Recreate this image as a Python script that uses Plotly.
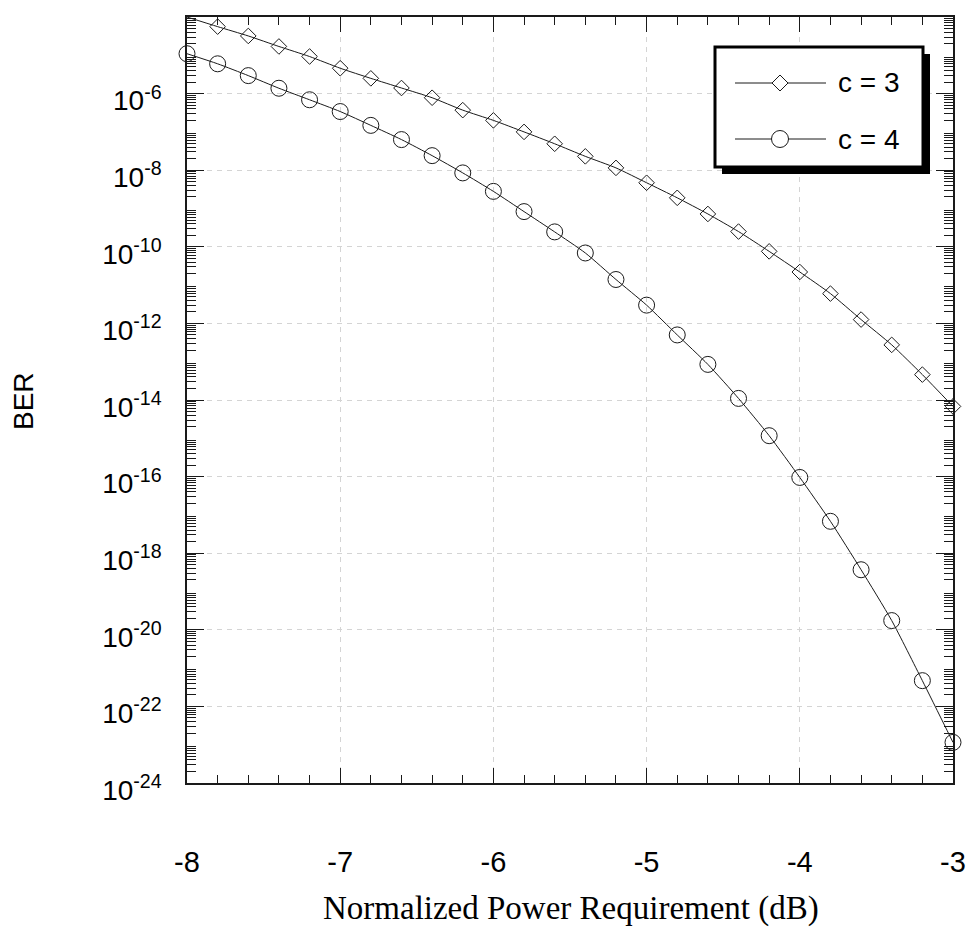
import plotly.graph_objects as go

# Normalized power requirement (dB), sampled every 0.2 dB
power_db = [-8.0, -7.8, -7.6, -7.4, -7.2, -7.0, -6.8, -6.6, -6.4, -6.2, -6.0,
            -5.8, -5.6, -5.4, -5.2, -5.0, -4.8, -4.6, -4.4, -4.2, -4.0,
            -3.8, -3.6, -3.4, -3.2, -3.0]

# Bit error rate for c = 3
ber_c3 = [1.0e-4, 5.6e-5, 3.2e-5, 1.7e-5, 9.3e-6, 4.6e-6, 2.5e-6, 1.4e-6,
          7.8e-7, 3.7e-7, 2.0e-7, 1.0e-7, 4.9e-8, 2.3e-8, 1.15e-8, 4.7e-9,
          1.9e-9, 7.2e-10, 2.5e-10, 7.6e-11, 2.2e-11, 6.0e-12, 1.26e-12,
          2.75e-13, 4.6e-14, 6.8e-15]

# Bit error rate for c = 4
ber_c4 = [1.1e-5, 6.0e-6, 2.95e-6, 1.38e-6, 6.9e-7, 3.4e-7, 1.48e-7, 6.3e-8,
          2.4e-8, 8.5e-9, 2.8e-9, 8.3e-10, 2.45e-10, 6.9e-11, 1.4e-11, 3.0e-12,
          5.0e-13, 8.5e-14, 1.1e-14, 1.17e-15, 9.5e-17, 6.8e-18, 3.7e-19,
          1.74e-20, 4.7e-22, 1.15e-23]

series_names = ["c = 3", "c = 4"]

# Axis ticks
x_ticks = [-8, -7, -6, -5, -4, -3]
x_ticklabels = ["-8", "-7", "-6", "-5", "-4", "-3"]
y_label_exps = [-24, -22, -20, -18, -16, -14, -12, -10, -8, -6]
y_label_vals = [10.0 ** d for d in y_label_exps]
y_label_text = [f"10<sup>{d}</sup>" for d in y_label_exps]
y_plain_vals = [10.0 ** d for d in range(-23, -3, 2)] + [1e-4]
y_minor = [m * 10.0 ** d for d in range(-24, -4) for m in range(2, 10)]
x_minor = [-8 + 0.2 * k for k in range(26)]

SANS = "Arial, 'Liberation Sans', sans-serif"
SERIF = "'Times New Roman', 'Liberation Serif', serif"
INK = "#1a1a1a"
GRID = "#d4d4d4"

# Plot area in pixels
W, H = 972, 934
L, R, T, B = 187, 953, 17, 783
PW, PH = R - L, B - T


def px(x):
    return (x - L) / PW


def py(y):
    return (B - y) / PH


fig = go.Figure()
fig.add_trace(go.Scatter(
    x=power_db, y=ber_c3, name=series_names[0], mode="lines+markers",
    line=dict(color=INK, width=1, shape="spline", smoothing=0.6),
    marker=dict(symbol="diamond-open", size=12, color=INK, line=dict(width=1, color=INK)),
    cliponaxis=False, showlegend=False,
))
fig.add_trace(go.Scatter(
    x=power_db, y=ber_c4, name=series_names[1], mode="lines+markers",
    line=dict(color=INK, width=1, shape="spline", smoothing=0.6),
    marker=dict(symbol="circle-open", size=16, color=INK, line=dict(width=1, color=INK)),
    cliponaxis=False, showlegend=False,
))

fig.update_layout(
    xaxis=dict(
        range=[-8, -3], tickmode="array", tickvals=x_ticks, ticktext=x_ticklabels,
        ticks="inside", ticklen=15, tickwidth=1, tickcolor=INK,
        showline=True, linecolor=INK, linewidth=1.5, mirror="allticks",
        showgrid=True, gridcolor=GRID, gridwidth=1, griddash="5px,5px",
        zeroline=False, ticklabelstandoff=52,
        tickfont=dict(family=SANS, size=29, color="black"),
        minor=dict(tickmode="array", tickvals=x_minor, ticks="inside", ticklen=8,
                   tickwidth=1, tickcolor=INK, showgrid=False),
    ),
    # labelled decades
    yaxis=dict(
        type="log", range=[-24, -4], tickmode="array", tickvals=y_label_vals,
        ticktext=y_label_text,
        ticks="inside", ticklen=17, tickwidth=1, tickcolor=INK,
        showline=True, linecolor=INK, linewidth=1.5, mirror="allticks",
        showgrid=True, gridcolor=GRID, gridwidth=1, griddash="5px,5px",
        zeroline=False, ticklabelstandoff=18, ticklabelshift=7,
        tickfont=dict(family=SANS, size=28, color="black"),
        minor=dict(tickmode="array", tickvals=y_minor, ticks="inside", ticklen=9,
                   tickwidth=1, tickcolor=INK, showgrid=False),
    ),
    # unlabelled decades: ticks and grid only
    yaxis2=dict(
        type="log", range=[-24, -4], overlaying="y", anchor="x", side="left",
        tickmode="array", tickvals=y_plain_vals, showticklabels=False,
        ticks="inside", ticklen=17, tickwidth=1, tickcolor=INK, mirror="allticks",
        showline=False, showgrid=True, gridcolor=GRID, gridwidth=1, griddash="5px,5px",
        zeroline=False,
    ),
)

shapes = []
annotations = []

# Legend box with drop shadow
bx0, by0, bx1, by1 = 715, 47, 923, 167
shapes.append(dict(type="rect", xref="paper", yref="paper",
                   x0=px(bx0 + 7), x1=px(bx1 + 7), y0=py(by0 + 7), y1=py(by1 + 7),
                   fillcolor="black", line=dict(width=0)))
shapes.append(dict(type="rect", xref="paper", yref="paper",
                   x0=px(bx0), x1=px(bx1), y0=py(by0), y1=py(by1),
                   fillcolor="white", line=dict(color="black", width=3)))

legend_rows = [83, 139]
for name, row, sym in zip(series_names, legend_rows, ["diamond", "circle"]):
    shapes.append(dict(type="line", xref="paper", yref="paper",
                       x0=px(735), x1=px(826), y0=py(row), y1=py(row),
                       line=dict(color=INK, width=1)))
    cx = 780
    if sym == "diamond":
        r = 8
        path = (f"M {px(cx - r)} {py(row)} L {px(cx)} {py(row - r)} "
                f"L {px(cx + r)} {py(row)} L {px(cx)} {py(row + r)} Z")
        shapes.append(dict(type="path", xref="paper", yref="paper", path=path,
                           fillcolor="white", line=dict(color=INK, width=1)))
    else:
        r = 8.5
        shapes.append(dict(type="circle", xref="paper", yref="paper",
                           x0=px(cx - r), x1=px(cx + r), y0=py(row + r), y1=py(row - r),
                           fillcolor="white", line=dict(color=INK, width=1)))
    annotations.append(dict(text=name, xref="paper", yref="paper", x=px(836), y=py(row),
                            xanchor="left", yanchor="middle", showarrow=False,
                            font=dict(family=SANS, size=28, color="black")))

# Axis titles
annotations.append(dict(text="BER", xref="paper", yref="paper", x=px(23), y=py(401),
                        textangle=-90, xanchor="center", yanchor="middle", showarrow=False,
                        font=dict(family=SANS, size=28, color="black")))
annotations.append(dict(text="Normalized Power Requirement (dB)", xref="paper", yref="paper",
                        x=px(571), y=py(908), xanchor="center", yanchor="middle",
                        showarrow=False, font=dict(family=SERIF, size=33, color="black")))

fig.update_layout(
    width=W, height=H,
    margin=dict(l=L, r=W - R, t=T, b=H - B, autoexpand=False),
    paper_bgcolor="white", plot_bgcolor="white",
    shapes=shapes, annotations=annotations, showlegend=False,
)

fig.write_html("out.html")
